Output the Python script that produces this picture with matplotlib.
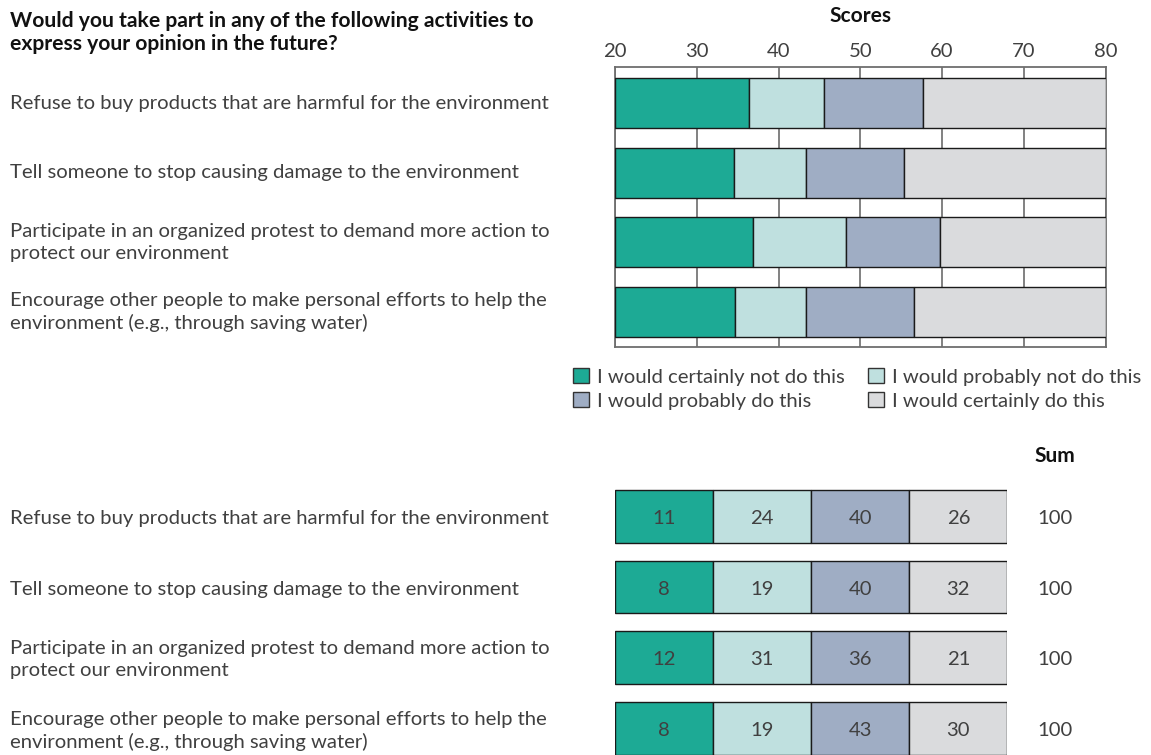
import matplotlib
matplotlib.use("Agg")
import matplotlib.pyplot as plt
import matplotlib.transforms as mtransforms
from matplotlib.patches import Patch
import numpy as np

plt.rcParams["font.family"] = ["Lato", "DejaVu Sans"]

TITLE = "Would you take part in any of the following activities to\nexpress your opinion in the future?"
ITEMS = [
    "Refuse to buy products that are harmful for the environment",
    "Tell someone to stop causing damage to the environment",
    "Participate in an organized protest to demand more action to\nprotect our environment",
    "Encourage other people to make personal efforts to help the\nenvironment (e.g., through saving water)",
]
CATEGORIES = [
    "I would certainly not do this",
    "I would probably not do this",
    "I would probably do this",
    "I would certainly do this",
]
COLORS = ["#1daa95", "#bfe0df", "#9fadc4", "#dadbdd"]

# scale scores: cut points between the four answer categories
SCALE_MIN, SCALE_MAX = 20, 80
CUT_1 = [36.4, 34.6, 36.9, 34.7]
CUT_2 = [45.6, 43.4, 48.2, 43.4]
CUT_3 = [57.7, 55.3, 59.7, 56.6]
SCORE_TICKS = [20, 30, 40, 50, 60, 70, 80]

# percentages per category (rounded), and the reported row sums
PCT_CERT_NOT = [11, 8, 12, 8]
PCT_PROB_NOT = [24, 19, 31, 19]
PCT_PROB_DO = [40, 40, 36, 43]
PCT_CERT_DO = [26, 32, 21, 30]
SUMS = [100, 100, 100, 100]

TEXT = "#404040"
W, H = 1151, 755
FS = 14.6


def rect(left, top, right, bottom):
    return [left / W, 1 - bottom / H, (right - left) / W, (bottom - top) / H]


fig = plt.figure(figsize=(W / 100, H / 100), dpi=100)

# ---- top panel: scores ----
ax = fig.add_axes(rect(615, 67.3, 1105.5, 346.7))
n = len(ITEMS)
y = np.arange(n)
bounds = np.vstack([np.full(n, SCALE_MIN), CUT_1, CUT_2, CUT_3, np.full(n, SCALE_MAX)])
for k in range(4):
    ax.barh(y, bounds[k + 1] - bounds[k], left=bounds[k], height=0.72,
            color=COLORS[k], edgecolor="#1a1a1a", linewidth=1.0, zorder=3)

ax.set_xlim(SCALE_MIN, SCALE_MAX)
ax.set_ylim(3.504, -0.518)
ax.set_xticks(SCORE_TICKS)
ax.xaxis.tick_top()
ax.tick_params(axis="x", length=0, pad=5, labelsize=FS, labelcolor=TEXT)
ax.set_yticks([])
ax.grid(axis="x", color="#777777", linewidth=1.3)
ax.set_axisbelow(True)
for s in ax.spines.values():
    s.set_color("#6e6e6e")
    s.set_linewidth(1.3)

fig.text(860 / W, 1 - 16 / H, "Scores", ha="center", va="center",
         fontsize=15, fontweight="bold", color="#111111")
fig.text(10 / W, 1 - 11 / H, TITLE, ha="left", va="top", fontsize=15.2,
         fontweight="bold", color="#111111", linespacing=1.2)

tr = mtransforms.blended_transform_factory(fig.transFigure, ax.transData)
for i, item in enumerate(ITEMS):
    ax.text(10 / W, i, item, transform=tr, ha="left", va="center", fontsize=FS,
            color=TEXT, linespacing=1.35)

handles = [Patch(facecolor=c, edgecolor="#333333", linewidth=1.0) for c in COLORS]
order = [0, 2, 1, 3]
fig.legend([handles[i] for i in order], [CATEGORIES[i] for i in order],
           loc="upper left", bbox_to_anchor=(563 / W, 1 - 358 / H), ncol=2,
           frameon=False, borderpad=0, handlelength=0.78,
           handleheight=0.78, handletextpad=0.4, columnspacing=1.15,
           labelspacing=0.3, labelcolor=TEXT, prop={"size": FS})

# ---- bottom panel: percentages ----
bx = fig.add_axes(rect(614.5, 483, 1007.5, 755))
pct = np.array([PCT_CERT_NOT, PCT_PROB_NOT, PCT_PROB_DO, PCT_CERT_DO])
for k in range(4):
    bx.barh(y, 1, left=k, height=0.745, color=COLORS[k], edgecolor="#1a1a1a",
            linewidth=1.0, zorder=3)
    for i in range(n):
        bx.text(k + 0.5, i + 0.03, str(pct[k, i]), ha="center", va="center",
                fontsize=FS, color=TEXT, zorder=4)
bx.set_xlim(0, 4)
bx.set_ylim(3.373, -0.47)
bx.axis("off")

sum_x = 4.48
bx.text(sum_x, -0.85, "Sum", ha="center", va="center", fontsize=15,
        fontweight="bold", color="#111111", clip_on=False)
for i in range(n):
    bx.text(sum_x, i + 0.03, str(SUMS[i]), ha="center", va="center", fontsize=FS,
            color=TEXT, clip_on=False)

trb = mtransforms.blended_transform_factory(fig.transFigure, bx.transData)
for i, item in enumerate(ITEMS):
    bx.text(10 / W, i + 0.03, item, transform=trb, ha="left", va="center", fontsize=FS,
            color=TEXT, linespacing=1.35, clip_on=False)

fig.savefig("out.png", dpi=100)
